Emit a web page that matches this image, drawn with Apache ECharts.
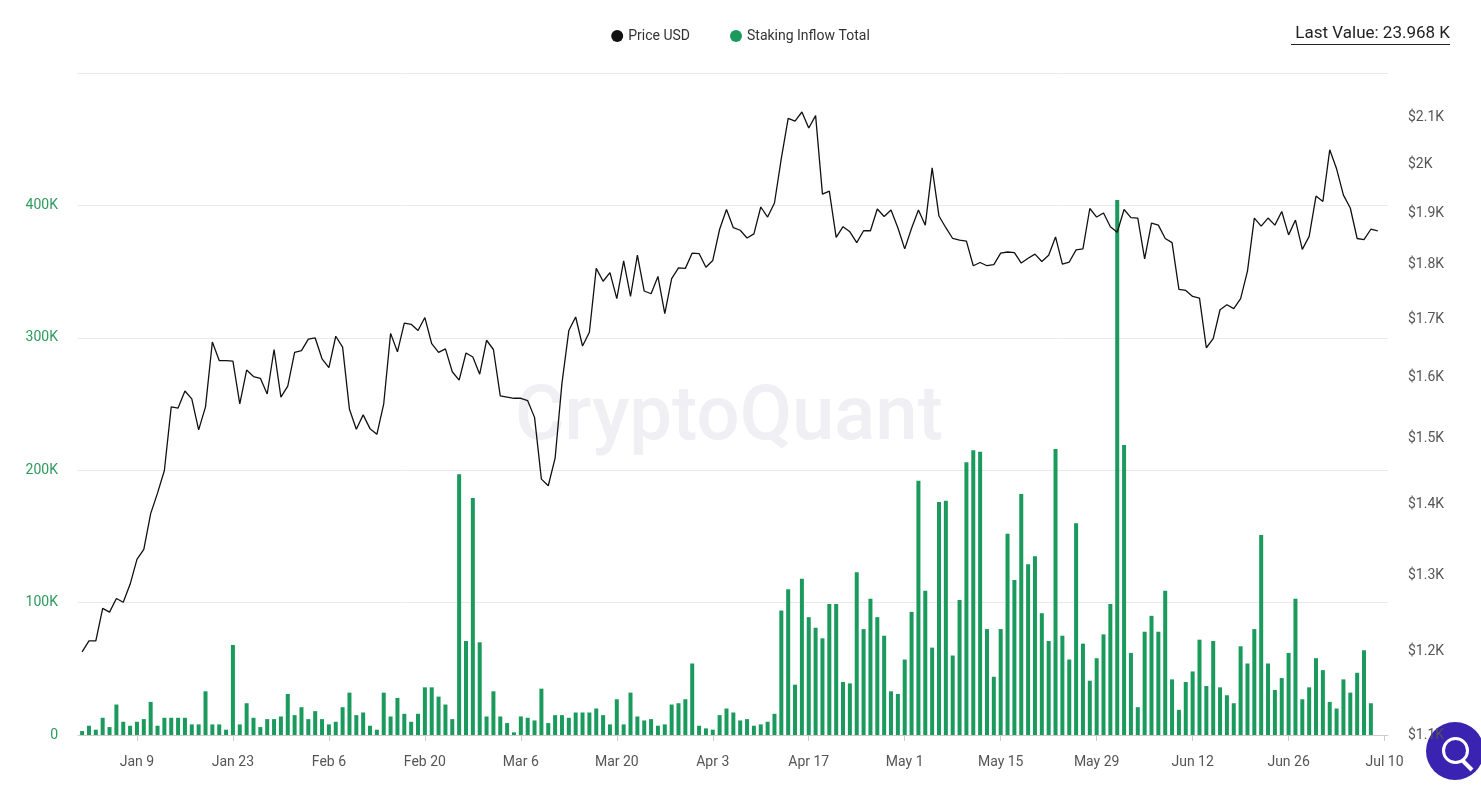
<!DOCTYPE html>
<html><head><meta charset="utf-8">
<script src="https://cdn.jsdelivr.net/npm/echarts@6/dist/echarts.min.js"></script>
<style>html,body{margin:0;padding:0;background:#fff}#c{width:1481px;height:786px}</style>
</head><body><div id="c"></div>
<script>
const startDate = '2023-01-01';
const priceUSD = [1200,1214,1214,1256,1251,1269,1264,1288,1322,1336,1387,1417,1451,1551,1549,1577,1564,1514,1551,1660,
1628,1628,1627,1556,1612,1601,1598,1572,1647,1567,1585,1642,1645,1665,1667,1631,1616,1670,1651,1547,
1515,1538,1516,1507,1556,1675,1643,1693,1691,1680,1703,1657,1642,1648,1609,1595,1641,1634,1605,1663,
1647,1569,1567,1565,1565,1561,1534,1438,1428,1470,1590,1680,1704,1653,1677,1793,1769,1785,1737,1807,
1741,1818,1751,1746,1778,1710,1774,1794,1793,1822,1821,1795,1808,1868,1907,1871,1866,1851,1859,1912,
1892,1920,2012,2098,2092,2112,2077,2104,1938,1944,1852,1873,1863,1842,1865,1865,1908,1893,1906,1871,
1830,1870,1906,1876,1992,1894,1871,1850,1847,1845,1798,1804,1798,1800,1822,1824,1823,1803,1812,1820,
1806,1818,1853,1801,1805,1828,1830,1909,1892,1900,1873,1862,1907,1891,1890,1811,1880,1876,1850,1842,
1754,1752,1741,1738,1650,1666,1717,1726,1719,1737,1788,1890,1874,1890,1876,1903,1857,1886,1829,1854,
1934,1923,2030,1990,1936,1910,1850,1848,1868,1865];
const stakingInflowK = [3,7,4,13,6,23,10,7,10,12,25,7,13,13,13,13,8,8,33,8,8,4,68,8,24,13,6,12,12,14,
31,15,21,12,18,12,8,10,21,32,15,17,7,4,32,14,28,16,
10,16,36,36,29,23,12,197,71,179,70,14,33,14,9,2,14,13,11,35,9,15,15,13,17,17,17,20,15,8,27,8,32,14,11,12,7,8,23,24,27,54,7,5,4,15,20,17,
11,12,7,8,10,16,94,110,38,118,89,81,73,99,99,40,39,123,80,103,89,75,33,31,57,93,192,109,66,176,177,60,102,206,215,214,80,44,80,152,117,182,129,135,92,71,216,75,
57,160,69,41,58,76,99,404,219,62,21,78,90,78,109,42,19,40,48,72,37,71,36,30,24,67,54,80,151,54,34,43,62,103,27,36,58,49,25,20,42,32,47,64,23.968];
const tickDates = ['2023-01-09','2023-01-23','2023-02-06','2023-02-20','2023-03-06','2023-03-20','2023-04-03','2023-04-17','2023-05-01','2023-05-15','2023-05-29','2023-06-12','2023-06-26','2023-07-10'];
const leftTicks = [0,100000,200000,300000,400000];
const rightTicks = [1100,1200,1300,1400,1500,1600,1700,1800,1900,2000,2100];

const DAY = 86400000;
const t0 = Date.UTC(2023,0,1);
const priceData = priceUSD.map((v,i)=>[i, v]);
const barData = stakingInflowK.map((v,i)=>[i, v*1000]);
const tickDays = tickDates.map(d=>{const p=d.split('-');return Math.round((Date.UTC(+p[0],+p[1]-1,+p[2])-t0)/DAY);});
const MON=['Jan','Feb','Mar','Apr','May','Jun','Jul','Aug','Sep','Oct','Nov','Dec'];

const chart = echarts.init(document.getElementById('c'));
chart.setOption({
  animation:false,
  textStyle:{fontFamily:'Roboto, sans-serif'},
  legend:{top:24,left:'center',itemWidth:12,itemHeight:12,itemGap:40,icon:'circle',
    textStyle:{fontSize:14,color:'#333'},data:['Price USD','Staking Inflow Total']},
  grid:{left:78,right:93,top:73,bottom:51},
  xAxis:{type:'value',min:-0.6,max:tickDays[tickDays.length-1]+0.5,
    axisLine:{lineStyle:{color:'#ccc'}},
    axisTick:{customValues:tickDays,length:6,lineStyle:{color:'#ccc'}},
    axisLabel:{customValues:tickDays,color:'#555',fontSize:14,margin:20,
      formatter:v=>{const d=new Date(t0+v*DAY);return MON[d.getUTCMonth()]+' '+d.getUTCDate();}},
    splitLine:{show:false}},
  yAxis:[
    {type:'value',min:0,max:500000,interval:100000,position:'left',
     axisLine:{show:false},axisTick:{show:false},
     axisLabel:{customValues:leftTicks,color:'#2e9a5e',fontSize:14,margin:20,
       formatter:v=>v===0?'0':(v/1000)+'K'},
     splitLine:{lineStyle:{color:'#e8e8ee'}}},
    {type:'log',logBase:10,min:1100,max:2200,position:'right',
     axisLine:{show:false},axisTick:{show:false},splitLine:{show:false},
     axisLabel:{customValues:rightTicks,color:'#555',fontSize:14,margin:20,
       formatter:v=>'$'+(Math.round(v/100)/10).toString()+'K'}}
  ],
  series:[
    {name:'Staking Inflow Total',type:'bar',yAxisIndex:0,data:barData,barWidth:4,
     itemStyle:{color:'#1a9a5c'},z:2},
    {name:'Price USD',type:'line',yAxisIndex:1,data:priceData,showSymbol:false,
     lineStyle:{color:'#111',width:1.3},itemStyle:{color:'#111'},z:3}
  ],
  graphic:[
    {type:'text',left:515,top:382,z:0,silent:true,style:{text:'CryptoQuant',fontSize:76,fontWeight:500,fill:'#efeff4',fontFamily:'Roboto, sans-serif'}},
    {type:'text',right:31,top:25,style:{text:'Last Value: 23.968 K',fontSize:17,fill:'#222',fontFamily:'Roboto, sans-serif'}},
    {type:'rect',right:31,top:44,shape:{width:159,height:1},style:{fill:'#222'}},
    {type:'circle',left:1426,top:722,shape:{r:29},style:{fill:'#3a23b0'}},
    {type:'circle',left:1441,top:736,shape:{r:12},style:{fill:'none',stroke:'#fff',lineWidth:3}},
    {type:'line',shape:{x1:1462,y1:760,x2:1472,y2:770},style:{stroke:'#fff',lineWidth:4}}
  ]
});
</script></body></html>
